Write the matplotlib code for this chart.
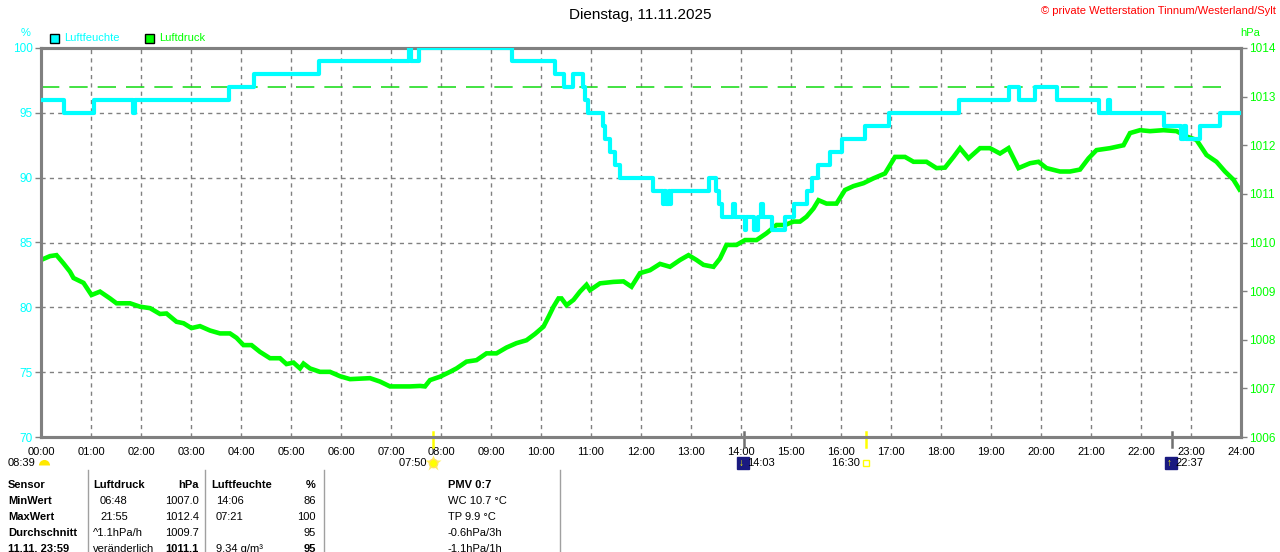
import matplotlib
matplotlib.use("Agg")
import matplotlib.pyplot as plt
import matplotlib.transforms as mtrans
from matplotlib.patches import Rectangle

plt.rcParams['font.family'] = ['Liberation Sans', 'DejaVu Sans']

W, H = 1280, 552
CYAN = '#00FFFF'
GREEN = '#00FF00'
GRAY = '#808080'

title = "Dienstag, 11.11.2025"
copyright_txt = "© private Wetterstation Tinnum/Westerland/Sylt"

# Luftfeuchte (%) - Stufenwechsel (Stunde, Wert)
hum_t = [0.0, 0.45, 1.05, 1.83, 1.88, 3.75, 4.25, 5.55, 7.35, 7.40, 7.55, 9.41,
         10.28, 10.45, 10.63, 10.84, 10.88, 10.94, 11.23, 11.28, 11.38, 11.48, 11.57,
         12.24, 12.43, 12.46, 12.50, 12.55, 12.58, 12.60, 13.35, 13.50, 13.56, 13.61,
         13.83, 13.87, 14.07, 14.10, 14.25, 14.33, 14.40, 14.43, 14.61, 14.88, 15.05,
         15.31, 15.41, 15.54, 15.78, 16.01, 16.48, 16.95, 18.35, 19.35, 19.55, 19.88,
         20.31, 21.15, 21.33, 21.37, 22.45, 22.80, 22.86, 22.90, 23.17, 23.57, 24.0]
hum_v = [96, 95, 96, 95, 96, 97, 98, 99, 100, 99, 100, 99,
         98, 97, 98, 97, 96, 95, 94, 93, 92, 91, 90,
         89, 88, 89, 88, 89, 88, 89, 90, 89, 88, 87,
         88, 87, 86, 87, 86, 87, 88, 87, 86, 87, 88,
         89, 90, 91, 92, 93, 94, 95, 96, 97, 96, 97,
         96, 95, 96, 95, 94, 93, 94, 93, 94, 95, 95]

# Luftdruck (hPa)
p_t = [0.0, 0.18, 0.31, 0.45, 0.58, 0.65, 0.85, 1.01, 1.18, 1.38, 1.51, 1.78, 1.98, 2.18,
       2.38, 2.51, 2.71, 2.85, 3.01, 3.18, 3.38, 3.58, 3.78, 3.91, 4.05, 4.21, 4.38, 4.58,
       4.78, 4.91, 5.05, 5.18, 5.25, 5.38, 5.58, 5.78, 5.98, 6.18, 6.38, 6.58, 6.78, 6.98,
       7.18, 7.38, 7.58, 7.68, 7.78, 7.98, 8.18, 8.31, 8.51, 8.71, 8.91, 9.11, 9.31, 9.51,
       9.71, 9.88, 10.05, 10.15, 10.25, 10.35, 10.41, 10.51, 10.65, 10.78, 10.91, 10.98,
       11.18, 11.45, 11.65, 11.81, 11.98, 12.18, 12.38, 12.58, 12.78, 12.95, 13.11, 13.25,
       13.45, 13.58, 13.71, 13.91, 14.08, 14.31, 14.51, 14.71, 14.88, 15.05, 15.18, 15.31,
       15.45, 15.55, 15.71, 15.91, 16.08, 16.25, 16.45, 16.65, 16.88, 17.08, 17.28, 17.45,
       17.71, 17.91, 18.08, 18.25, 18.38, 18.55, 18.78, 18.98, 19.18, 19.35, 19.55, 19.78,
       19.95, 20.11, 20.38, 20.58, 20.78, 20.95, 21.11, 21.38, 21.65, 21.78, 21.98, 22.18,
       22.45, 22.71, 22.91, 23.11, 23.31, 23.51, 23.68, 23.85, 23.97]
p_v = [1009.64, 1009.72, 1009.74, 1009.57, 1009.40, 1009.27, 1009.17, 1008.92, 1008.99,
       1008.85, 1008.75, 1008.75, 1008.68, 1008.65, 1008.53, 1008.54, 1008.37, 1008.34,
       1008.24, 1008.28, 1008.19, 1008.13, 1008.13, 1008.04, 1007.89, 1007.89, 1007.75,
       1007.62, 1007.62, 1007.50, 1007.53, 1007.41, 1007.51, 1007.41, 1007.34, 1007.34,
       1007.25, 1007.19, 1007.20, 1007.21, 1007.14, 1007.04, 1007.04, 1007.04, 1007.05,
       1007.04, 1007.17, 1007.24, 1007.34, 1007.41, 1007.55, 1007.58, 1007.72, 1007.72,
       1007.84, 1007.93, 1007.99, 1008.12, 1008.27, 1008.47, 1008.68, 1008.85, 1008.85,
       1008.71, 1008.82, 1008.99, 1009.13, 1009.02, 1009.16, 1009.19, 1009.20, 1009.09,
       1009.37, 1009.43, 1009.56, 1009.50, 1009.64, 1009.74, 1009.64, 1009.54, 1009.50,
       1009.67, 1009.95, 1009.95, 1010.05, 1010.05, 1010.19, 1010.36, 1010.36, 1010.43,
       1010.43, 1010.53, 1010.70, 1010.87, 1010.80, 1010.80, 1011.08, 1011.16, 1011.22,
       1011.32, 1011.42, 1011.76, 1011.76, 1011.66, 1011.66, 1011.53, 1011.54, 1011.76,
       1011.94, 1011.73, 1011.94, 1011.94, 1011.83, 1011.94, 1011.53, 1011.63, 1011.66,
       1011.53, 1011.46, 1011.46, 1011.50, 1011.73, 1011.90, 1011.94, 1012.00, 1012.25,
       1012.31, 1012.29, 1012.31, 1012.29, 1012.18, 1012.11, 1011.80, 1011.66, 1011.46,
       1011.29, 1011.09]

p_ref = 1013.2   # gestrichelte Referenzlinie
hours = list(range(0, 25))
hour_labels = ["%02d:00" % h for h in hours]
hum_ticks = [70, 75, 80, 85, 90, 95, 100]
p_ticks = list(range(1006, 1015))

# Sonne / Mond Ereignisse (Stunde, Text)
sun_rise = (7 + 50 / 60, "07:50")
sun_set = (16.5, "16:30")
moon_rise = (14 + 3 / 60, "14:03")
moon_set = (22 + 37 / 60, "22:37")
day_len = "08:39"

# Tabelle
tab_rows = ["Sensor", "MinWert", "MaxWert", "Durchschnitt", "11.11. 23:59"]
tab_p_a = ["Luftdruck", "06:48", "21:55", "^1.1hPa/h", "veränderlich"]
tab_p_b = ["hPa", "1007.0", "1012.4", "1009.7", "1011.1"]
tab_h_a = ["Luftfeuchte", "14:06", "07:21", "", "9.34 g/m³"]
tab_h_b = ["%", "86", "100", "95", "95"]
tab_x = ["PMV 0:7", "WC 10.7 °C", "TP 9.9 °C", "-0.6hPa/3h", "-1.1hPa/1h"]


def fx(x):
    return x / W


def fy(y):
    return 1 - y / H


fig = plt.figure(figsize=(W / 100, H / 100), dpi=100)
rect = [fx(41), fy(437), 1200 / W, 389 / H]

axp = fig.add_axes(rect)           # Luftdruck, unten
axh = axp.twinx()                  # Luftfeuchte, oben
axp.set_zorder(1)
axh.set_zorder(2)
axh.patch.set_visible(False)

axp.set_xlim(0, 24)
axp.set_ylim(1006, 1014)
axh.set_ylim(70, 100)

# Raster (auf Luftdruck-Achse, damit es unter den Kurven liegt)
for h in hours[1:-1]:
    axp.axvline(h, color=GRAY, lw=1, ls=(0, (3, 3)), zorder=0)
for v in hum_ticks[1:-1]:
    axp.axhline(1006 + (v - 70) * 8 / 30, color=GRAY, lw=1, ls=(0, (3, 3)), zorder=0)

axp.plot([0, 23.78], [p_ref, p_ref], color='#22DD22', lw=1.2, ls=(0, (11, 6)), zorder=1)
axp.plot(p_t, p_v, color=GREEN, lw=3.3, solid_joinstyle='miter', zorder=2)
axh.step(hum_t, hum_v, where='post', color=CYAN, lw=3, zorder=3)

# Achsen
for ax in (axp, axh):
    for s in ax.spines.values():
        s.set_color(GRAY)
        s.set_linewidth(2.2)

axp.set_xticks(hours)
axp.set_xticklabels(hour_labels)
axp.tick_params(axis='x', length=0, pad=7, labelsize=8, colors='black')

axp.yaxis.tick_right()
axp.set_yticks(p_ticks)
axp.tick_params(axis='y', length=4, width=1, color=GRAY, labelcolor=GREEN, labelsize=8.5, pad=2)

axh.yaxis.tick_left()
axh.set_yticks(hum_ticks)
axh.tick_params(axis='y', length=4, width=1, color=GRAY, labelcolor=CYAN, labelsize=8.5, pad=2)

# Kopfzeile
fig.text(0.5, fy(15), title, ha='center', va='center', fontsize=11)
fig.text(fx(1276), fy(11), copyright_txt, ha='right', va='center', fontsize=8, color='#FF0000')
fig.text(fx(26), fy(33), "%", ha='center', va='center', fontsize=8, color=CYAN)
fig.text(fx(1250), fy(33), "hPa", ha='center', va='center', fontsize=8, color=GREEN)

# Legende
fig.patches.append(Rectangle((fx(50), fy(43)), 9 / W, 9 / H, transform=fig.transFigure,
                             facecolor=CYAN, edgecolor='black', lw=1))
fig.text(fx(64), fy(38), "Luftfeuchte", va='center', fontsize=8, color=CYAN)
fig.patches.append(Rectangle((fx(145), fy(43)), 9 / W, 9 / H, transform=fig.transFigure,
                             facecolor=GREEN, edgecolor='black', lw=1))
fig.text(fx(159), fy(38), "Luftdruck", va='center', fontsize=8, color=GREEN)

# Sonne / Mond Markierungen
bt = mtrans.blended_transform_factory(axp.transData, fig.transFigure)
for t, col in ((sun_rise[0], '#FFFF00'), (sun_set[0], '#FFFF00'),
               (moon_rise[0], '#707070'), (moon_set[0], '#707070')):
    axp.plot([t, t], [fy(432), fy(447)], color=col, lw=1.8, transform=bt, clip_on=False, zorder=5)

ylab = fy(463)
fig.text(fx(8), ylab, day_len, va='center', fontsize=8)
fig.add_artist(plt.Line2D([fx(44)], [fy(465)], marker='o', ms=8, fillstyle='top',
                          markerfacecoloralt='none', mfc='#FFE800', mec='none'))

fig.text(sun_rise[0], ylab, sun_rise[1] + "  ", transform=bt, ha='right', va='center', fontsize=8)
axp.plot([sun_rise[0]], [ylab], marker='*', ms=12, color='#FFF060', mec='none', transform=bt,
         clip_on=False)
axp.plot([sun_rise[0]], [ylab], marker='o', ms=6, color='#FFFF00', mec='#FFE060', transform=bt,
         clip_on=False)

fig.text(sun_set[0], ylab, sun_set[1] + "  ", transform=bt, ha='right', va='center', fontsize=8)
axp.plot([sun_set[0]], [ylab], marker='s', ms=5, mfc='white', mec='#FFFF00', mew=1, transform=bt,
         clip_on=False)

for t, lab, arrow in ((moon_rise[0], moon_rise[1], "\u2193"), (moon_set[0], moon_set[1], "\u2191")):
    axp.plot([t - 0.02], [ylab], marker='s', ms=8, color='#1A1A80', transform=bt, clip_on=False)
    fig.text(t - 0.05, ylab, arrow, transform=bt, ha='center', va='center', fontsize=7,
             color='#FFFF00', fontweight='bold')
    fig.text(t + 0.08, ylab, lab, transform=bt, ha='left', va='center', fontsize=8)

# Tabelle unten
for xl in (88, 205, 324, 560):
    fig.add_artist(plt.Line2D([fx(xl), fx(xl)], [fy(470), 0], color='#A0A0A0', lw=1))

row_y = [485, 501, 517, 533, 549]
for i, y in enumerate(row_y):
    yy = fy(y)
    bold_all = (i == 0)
    fig.text(fx(8), yy, tab_rows[i], va='center', fontsize=8, fontweight='bold')
    fig.text(fx(93 if i in (0, 3, 4) else 100), yy, tab_p_a[i], va='center', fontsize=8,
             fontweight='bold' if bold_all else 'normal')
    fig.text(fx(199), yy, tab_p_b[i], va='center', ha='right', fontsize=8,
             fontweight='bold' if (bold_all or i == 4) else 'normal')
    fig.text(fx(211 if i == 0 else 216), yy, tab_h_a[i], va='center', fontsize=8,
             fontweight='bold' if bold_all else 'normal')
    fig.text(fx(316), yy, tab_h_b[i], va='center', ha='right', fontsize=8,
             fontweight='bold' if (bold_all or i == 4) else 'normal')
    fig.text(fx(448), yy, tab_x[i], va='center', fontsize=8,
             fontweight='bold' if bold_all else 'normal')

fig.savefig("out.png", dpi=100)
